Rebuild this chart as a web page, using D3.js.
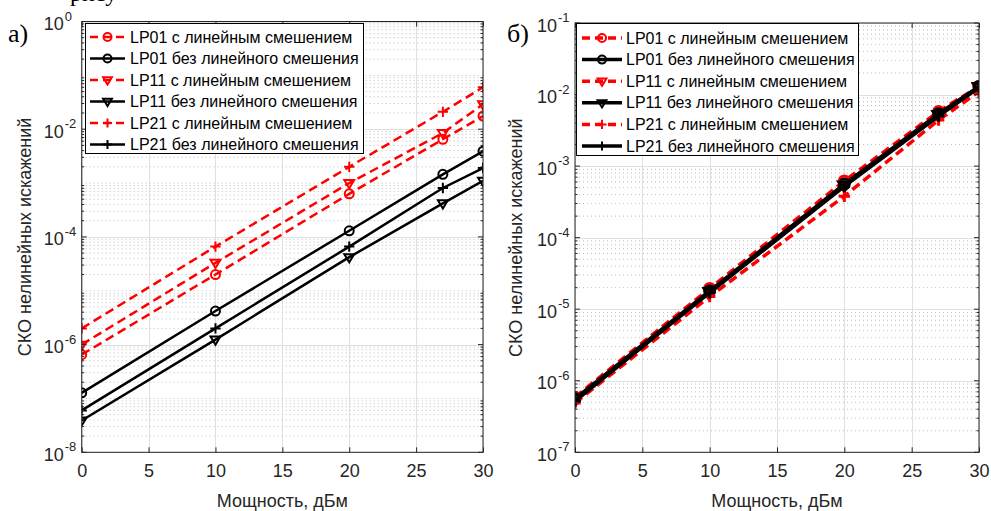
<!DOCTYPE html>
<html><head><meta charset="utf-8">
<script src="https://cdn.jsdelivr.net/npm/d3@7"></script>
<style>
body{margin:0;background:#fff}
svg{display:block}
text{font-family:"Liberation Sans",Arial,Helvetica,sans-serif}
</style>
</head><body>
<svg id="c" width="991" height="511"></svg>
<script>
// ---------- DATA ----------
const power = [0, 10, 20, 27, 30];            // Мощность, дБм
const seriesNames = [
  "LP01 с линейным смешением",
  "LP01 без линейного смешения",
  "LP11 с линейным смешением",
  "LP11 без линейного смешения",
  "LP21 с линейным смешением",
  "LP21 без линейного смешения"
];
// panel а)
const aLP01lin   = [6.5e-7, 2.0e-5, 6.3e-4, 6.5e-3, 1.75e-2];
const aLP01nolin = [1.27e-7, 4.2e-6, 1.3e-4, 1.45e-3, 3.9e-3];
const aLP11lin   = [1.0e-6, 3.3e-5, 1.0e-3, 8.5e-3, 2.9e-2];
const aLP11nolin = [3.9e-8, 1.24e-6, 4.2e-5, 4.2e-4, 1.1e-3];
const aLP21lin   = [2.0e-6, 6.6e-5, 2.0e-3, 2.1e-2, 6.0e-2];
const aLP21nolin = [6.0e-8, 2.0e-6, 6.6e-5, 8.1e-4, 1.9e-3];
// panel б)
const bLP01lin   = [5.9e-7, 1.95e-5, 6.2e-4, 5.8e-3, 1.3e-2];
const bLP01nolin = [5.6e-7, 1.8e-5, 5.6e-4, 5.4e-3, 1.3e-2];
const bLP11lin   = [5.4e-7, 1.75e-5, 5.4e-4, 5.2e-3, 1.25e-2];
const bLP11nolin = [5.4e-7, 1.75e-5, 5.4e-4, 5.2e-3, 1.28e-2];
const bLP21lin   = [4.9e-7, 1.5e-5, 3.8e-4, 4.4e-3, 1.1e-2];
const bLP21nolin = [5.2e-7, 1.7e-5, 5.2e-4, 5.0e-3, 1.25e-2];

const xTicks = [0, 5, 10, 15, 20, 25, 30];
const aYTickExp = [-8, -6, -4, -2, 0];
const bYTickExp = [-7, -6, -5, -4, -3, -2, -1];
const xLabel = "Мощность, дБм";
const yLabel = "СКО нелинейных искажений";

// ---------- STYLE ----------
const seriesStyle = [
  {color:"#ff0000", dash:true,  marker:"circle"},
  {color:"#000000", dash:false, marker:"circle"},
  {color:"#ff0000", dash:true,  marker:"tri"},
  {color:"#000000", dash:false, marker:"tri"},
  {color:"#ff0000", dash:true,  marker:"plus"},
  {color:"#000000", dash:false, marker:"plus"}
];

const svg = d3.select("#c");

// cut-off line of document text at the very top
svg.append("text").attr("x", 70).attr("y", 1)
  .style("font-family", "'Liberation Serif','Times New Roman',serif")
  .style("font-size", "24px").text("рису");

function drawMarker(g, type, cx, cy, color, sw, s) {
  if (type === "circle") {
    g.append("circle").attr("cx", cx).attr("cy", cy).attr("r", s)
      .attr("fill", "none").attr("stroke", color).attr("stroke-width", sw);
  } else if (type === "tri") {
    const h = s * 1.1;
    g.append("path")
      .attr("d", `M${cx - h},${cy - h * 0.6}L${cx + h},${cy - h * 0.6}L${cx},${cy + h * 1.05}Z`)
      .attr("fill", "none").attr("stroke", color).attr("stroke-width", sw)
      .attr("stroke-linejoin", "miter");
  } else {
    const a = s * 1.15;
    g.append("path")
      .attr("d", `M${cx - a},${cy}H${cx + a}M${cx},${cy - a}V${cy + a}`)
      .attr("fill", "none").attr("stroke", color).attr("stroke-width", sw);
  }
}

function panel(o) {
  const g = svg.append("g");
  const x = d3.scaleLinear().domain([0, 30]).range([o.x0, o.x1]);
  const y = d3.scaleLog().domain(o.yDomain).range([o.yBot, o.yTop]);
  const lo = Math.round(Math.log10(o.yDomain[0])), hi = Math.round(Math.log10(o.yDomain[1]));
  const minors = [];
  for (let d = lo; d < hi; d++) for (let k = 1; k <= 9; k++) {
    const v = k * Math.pow(10, d);
    if (!(k === 1 && o.majors.includes(d))) minors.push(v);
  }
  const tickMinors = [];
  for (let d = lo; d < hi; d++) for (let k = 2; k <= 9; k++) tickMinors.push(k * Math.pow(10, d));

  // minor grid (dotted)
  g.append("g").selectAll("line").data(minors).join("line")
    .attr("x1", o.x0).attr("x2", o.x1)
    .attr("y1", d => y(d)).attr("y2", d => y(d))
    .attr("stroke", "#bdbdbd").attr("stroke-width", 1).attr("stroke-dasharray", "1 3");
  // major grid
  g.append("g").selectAll("line").data(o.majors.map(e => Math.pow(10, e))).join("line")
    .attr("x1", o.x0).attr("x2", o.x1)
    .attr("y1", d => Math.round(y(d)) + 0.5).attr("y2", d => Math.round(y(d)) + 0.5)
    .attr("stroke", "#e0e0e0").attr("stroke-width", 1);
  g.append("g").selectAll("line").data(xTicks).join("line")
    .attr("x1", d => Math.round(x(d)) + 0.5).attr("x2", d => Math.round(x(d)) + 0.5)
    .attr("y1", o.yTop).attr("y2", o.yBot)
    .attr("stroke", "#e0e0e0").attr("stroke-width", 1);

  // clip
  const cid = "clip" + o.id;
  svg.append("clipPath").attr("id", cid).append("rect")
    .attr("x", o.x0).attr("y", o.yTop).attr("width", o.x1 - o.x0).attr("height", o.yBot - o.yTop);

  const plot = g.append("g").attr("clip-path", `url(#${cid})`);
  const line = d3.line().x((d, i) => x(power[i])).y(d => y(d));
  o.series.forEach((vals, si) => {
    const st = seriesStyle[si];
    plot.append("path").datum(vals).attr("d", line)
      .attr("fill", "none").attr("stroke", st.color).attr("stroke-width", o.lw)
      .attr("stroke-dasharray", st.dash ? o.dash : null);
    vals.forEach((v, i) => drawMarker(plot, st.marker, x(power[i]), y(v), st.color, o.msw, o.ms));
  });

  // axes box
  g.append("rect").attr("x", o.x0).attr("y", o.yTop)
    .attr("width", o.x1 - o.x0).attr("height", o.yBot - o.yTop)
    .attr("fill", "none").attr("stroke", "#262626").attr("stroke-width", 1);

  // x ticks (bottom + top, inward)
  const xAxB = d3.axisBottom(x).tickValues(xTicks).tickSizeInner(-5).tickSizeOuter(0).tickPadding(12).tickFormat(d3.format("d"));
  const gxb = g.append("g").attr("transform", `translate(0,${o.yBot})`).call(xAxB);
  gxb.select(".domain").remove();
  gxb.selectAll("line").attr("stroke", "#262626");
  gxb.selectAll("text").attr("fill", "#262626").style("font-size", "18px");
  const xAxT = d3.axisTop(x).tickValues(xTicks).tickSizeInner(-5).tickSizeOuter(0).tickFormat("");
  const gxt = g.append("g").attr("transform", `translate(0,${o.yTop})`).call(xAxT);
  gxt.select(".domain").remove();
  gxt.selectAll("line").attr("stroke", "#262626");

  // y ticks: majors
  const majVals = o.majors.map(e => Math.pow(10, e));
  [["L", o.x0, 1], ["R", o.x1, -1]].forEach(([side, xx, dir]) => {
    g.append("g").selectAll("line").data(majVals).join("line")
      .attr("x1", xx).attr("x2", xx + dir * 5)
      .attr("y1", d => y(d)).attr("y2", d => y(d))
      .attr("stroke", "#262626");
    g.append("g").selectAll("line").data(tickMinors).join("line")
      .attr("x1", xx).attr("x2", xx + dir * 2.5)
      .attr("y1", d => y(d)).attr("y2", d => y(d))
      .attr("stroke", "#262626");
  });
  // y tick labels
  g.append("g").selectAll("text").data(o.majors).join("text")
    .attr("x", o.x0 - 18).attr("y", d => y(Math.pow(10, d)) + 8.5)
    .attr("text-anchor", "end").attr("fill", "#262626").style("font-size", "18px")
    .text("10");
  g.append("g").selectAll("text").data(o.majors).join("text")
    .attr("x", o.x0 - 17).attr("y", d => y(Math.pow(10, d)) - 1)
    .attr("text-anchor", "start").attr("fill", "#262626").style("font-size", "13px")
    .text(d => d === 0 ? "0" : "-" + Math.abs(d));

  // axis labels
  g.append("text").attr("x", (o.x0 + o.x1) / 2).attr("y", 507)
    .attr("text-anchor", "middle").attr("fill", "#262626").style("font-size", "18px").text(xLabel);
  g.append("text").attr("transform", `translate(${o.ylx},${(o.yTop + o.yBot) / 2}) rotate(-90)`)
    .attr("dy", "0.35em").attr("text-anchor", "middle").attr("fill", "#262626")
    .style("font-size", "18px").text(yLabel);

  // legend
  const L = o.leg;
  const lg = g.append("g");
  lg.append("rect").attr("x", L.x + 0.5).attr("y", L.y + 0.5).attr("width", L.w).attr("height", L.h)
    .attr("fill", "#fff").attr("stroke", "#000").attr("stroke-width", 1);
  seriesNames.forEach((name, i) => {
    const st = seriesStyle[i];
    const cy = L.y + L.first + i * L.step;
    lg.append("line").attr("x1", L.x + L.s0).attr("x2", L.x + L.s1).attr("y1", cy).attr("y2", cy)
      .attr("stroke", st.color).attr("stroke-width", o.lw).attr("stroke-dasharray", st.dash ? "8 5" : null);
    drawMarker(lg, st.marker, L.x + (L.s0 + L.s1) / 2, cy, st.color, 2, 4);
    lg.append("text").attr("x", L.x + L.tx).attr("y", cy + 5.5).attr("fill", "#000")
      .style("font-size", "16px").text(name);
  });

  // panel letter
  svg.append("text").attr("x", o.letterX).attr("y", 42)
    .style("font-family", "'Liberation Serif','Times New Roman',serif")
    .style("font-size", "26px").attr("fill", "#000").text(o.letter);
}

panel({
  id: "a", x0: 81.7, x1: 483, yTop: 21.5, yBot: 452.3, yDomain: [1e-8, 1], majors: aYTickExp,
  series: [aLP01lin, aLP01nolin, aLP11lin, aLP11nolin, aLP21lin, aLP21nolin],
  lw: 2.5, msw: 2, ms: 4.5, dash: "9 5", ylx: 25,
  leg: {x: 85, y: 23, w: 278, h: 130, first: 14, step: 21.5, s0: 5, s1: 40, tx: 45},
  letter: "а)", letterX: 8
});
panel({
  id: "b", x0: 575, x1: 979, yTop: 23, yBot: 452.3, yDomain: [1e-7, 1e-1], majors: bYTickExp,
  series: [bLP01lin, bLP01nolin, bLP11lin, bLP11nolin, bLP21lin, bLP21nolin],
  lw: 3.5, msw: 3, ms: 5, dash: "9 5", ylx: 516,
  leg: {x: 576, y: 23, w: 282, h: 132, first: 15, step: 21.6, s0: 6, s1: 46, tx: 50},
  letter: "б)", letterX: 507
});
</script>
</body></html>
